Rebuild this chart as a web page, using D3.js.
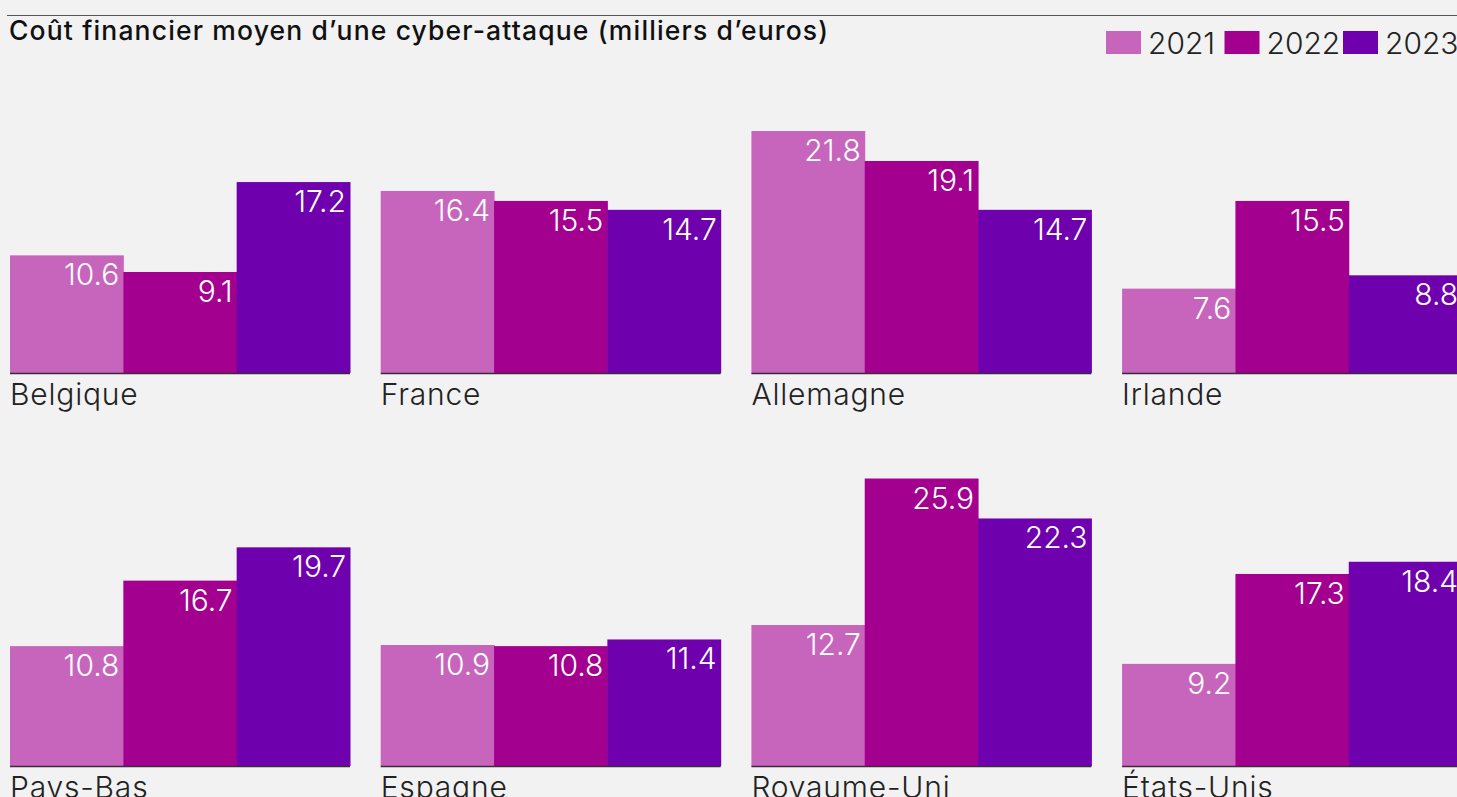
<!DOCTYPE html>
<html>
<head>
<meta charset="utf-8">
<script src="https://cdn.jsdelivr.net/npm/d3@7"></script>
<style>
  body { margin: 0; background: #f2f2f2; overflow: hidden; }
  svg { display: block; }
</style>
</head>
<body>
<div id="chart"></div>
<script>
const COUNTRIES = ['Belgique', 'France', 'Allemagne', 'Irlande', 'Pays-Bas', 'Espagne', 'Royaume-Uni', 'États-Unis'];
const YEARS = ['2021', '2022', '2023'];
const V2021 = [10.6, 16.4, 21.8, 7.6, 10.8, 10.9, 12.7, 9.2];
const V2022 = [9.1, 15.5, 19.1, 15.5, 16.7, 10.8, 25.9, 17.3];
const V2023 = [17.2, 14.7, 14.7, 8.8, 19.7, 11.4, 22.3, 18.4];
const COLORS = ['#c765bd', '#a4008f', '#6f00ae'];
const TITLE = 'Coût financier moyen d\u2019une cyber-attaque (milliers d\u2019euros)';

const W = 1457, H = 797;
const FONT = 'Inter, "Liberation Sans", sans-serif';

const svg = d3.select('#chart').append('svg')
    .attr('width', W)
    .attr('height', H);

svg.append('rect').attr('width', W).attr('height', H).attr('fill', '#f2f2f2');

// top rule + title
svg.append('line')
    .attr('x1', 7).attr('x2', W).attr('y1', 15.5).attr('y2', 15.5)
    .attr('stroke', '#555').attr('stroke-width', 1.2);

svg.append('text')
    .attr('x', 9).attr('y', 40)
    .attr('font-family', FONT)
    .attr('font-size', 26.5)
    .attr('font-weight', 450)
    .attr('letter-spacing', 1.15)
    .attr('fill', '#111')
    .text(TITLE);

// legend
const legend = svg.append('g').attr('transform', 'translate(1106, 31)');
const legendX = d3.scalePoint().domain(YEARS).range([0, 237]);
const legItem = legend.selectAll('g').data(YEARS).enter().append('g')
    .attr('transform', d => `translate(${legendX(d)},0)`);
legItem.append('rect')
    .attr('width', 35).attr('height', 23)
    .attr('fill', (d, i) => COLORS[i]);
legItem.append('text')
    .attr('x', 42).attr('y', 23)
    .attr('font-family', FONT).attr('font-size', 30).attr('font-weight', 300)
    .attr('fill', '#222')
    .text(d => d);

// panels
const data = COUNTRIES.map((c, i) => ({ country: c, values: [V2021[i], V2022[i], V2023[i]] }));

const colX = d3.scaleLinear().domain([0, 3]).range([10, 10 + 3 * 370.7]);
const rowBase = d3.scaleOrdinal().domain([0, 1]).range([373, 766]);
const x = d3.scaleBand().domain(YEARS).range([0, 340]).padding(0);
const h = d3.scaleLinear().domain([0, 26]).range([0, 288.6]);

const panel = svg.selectAll('g.panel').data(data).enter().append('g')
    .attr('class', 'panel')
    .attr('transform', (d, i) => `translate(${colX(i % 4)},${rowBase(Math.floor(i / 4))})`);

panel.selectAll('rect').data(d => d.values).enter().append('rect')
    .attr('x', (d, i) => x(YEARS[i]))
    .attr('y', d => -h(d))
    .attr('width', x.bandwidth() + 0.5)
    .attr('height', d => h(d))
    .attr('fill', (d, i) => COLORS[i]);

panel.selectAll('text.val').data(d => d.values).enter().append('text')
    .attr('class', 'val')
    .attr('x', (d, i) => x(YEARS[i]) + x.bandwidth() - 4)
    .attr('y', d => -h(d) + 30)
    .attr('text-anchor', 'end')
    .attr('font-family', FONT).attr('font-size', 30).attr('font-weight', 300)
    .attr('fill', '#fff')
    .text(d => d.toFixed(1));

panel.append('line')
    .attr('x1', 0).attr('x2', 340).attr('y1', 0.5).attr('y2', 0.5)
    .attr('stroke', '#3a2a3a').attr('stroke-width', 1.5);

panel.append('text')
    .attr('x', 0).attr('y', 32)
    .attr('font-family', FONT).attr('font-size', 30).attr('font-weight', 300)
    .attr('letter-spacing', 0.8)
    .attr('fill', '#222')
    .text(d => d.country);
</script>
</body>
</html>
